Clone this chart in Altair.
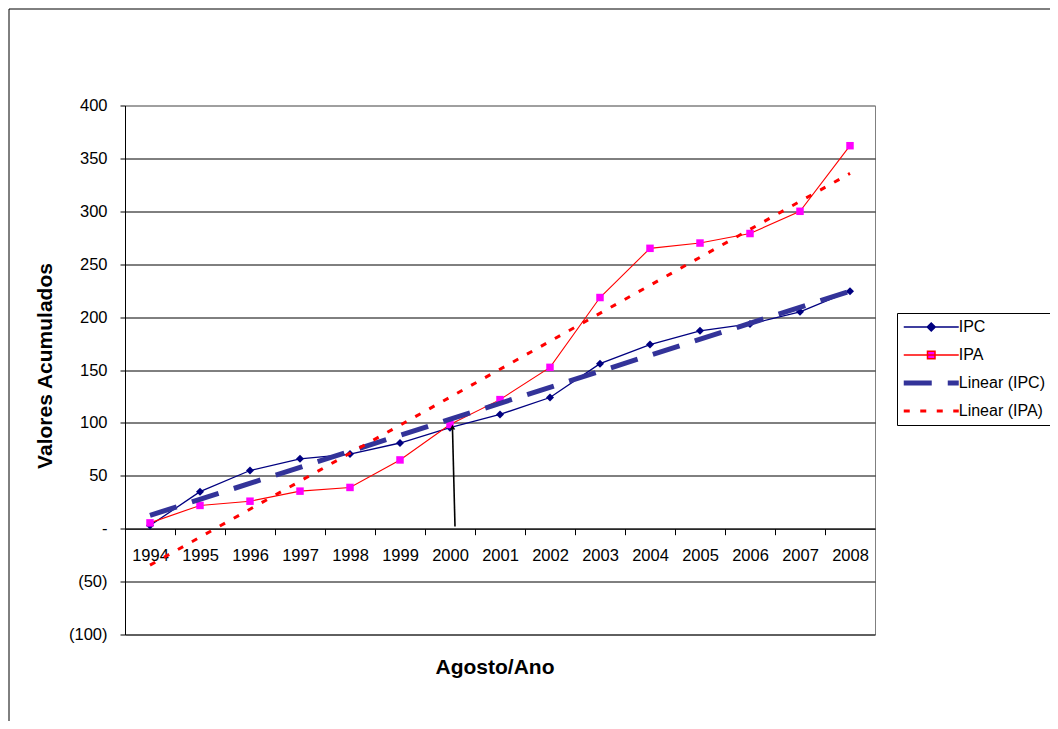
import altair as alt
import pandas as pd

# ---------------- data ----------------
anos = list(range(1994, 2009))
ipc = [3, 35, 55, 66, 70.5, 81, 95.5, 108, 124, 156, 174, 187, 193.5, 205, 224.5]
ipa = [5.5, 22, 26, 35.5, 39, 65, 98.5, 122, 152.5, 218.5, 265, 270, 279, 300, 362]
y_ticks = [-100, -50, 0, 50, 100, 150, 200, 250, 300, 350, 400]
series = ["IPC", "IPA", "Linear (IPC)", "Linear (IPA)"]

# annotation arrow (data coordinates)
arrow_x0 = [2000.1]
arrow_y0 = [2]
arrow_x1 = [2000.05]
arrow_y1 = [94]
arrow_head_y = [96]

df = pd.DataFrame({"Ano": anos, "IPC": ipc, "IPA": ipa})
arrow_df = pd.DataFrame({"x0": arrow_x0, "y0": arrow_y0, "x1": arrow_x1, "y1": arrow_y1, "yh": arrow_head_y})
legend_df = pd.DataFrame({"Serie": series})
frame_df = pd.DataFrame({"k": [0]})

FONT = "Liberation Sans"
NAVY = "#000080"
RED = "#FF0000"
MAGENTA = "#FF00FF"
SLATE = "#333399"

xscale = alt.Scale(domain=[1993.5, 2008.5], nice=False, zero=False)
yscale = alt.Scale(domain=[-100, 400], nice=False, zero=False)

xaxis = alt.Axis(
    values=anos, format="d", tickOffset=-25, labelOffset=25, offset=-105.8,
    grid=False, domainColor="black", tickColor="black", tickSize=6,
    labelFont=FONT, labelFontSize=16.5, labelColor="black", labelPadding=12.5,
    labelFlush=False, labelOverlap=False,
    title="Agosto/Ano", titleFont=FONT, titleFontSize=21, titleFontWeight="bold",
    titleColor="black", titleX=369.5, titleY=145, titleBaseline="alphabetic",
    titleAlign="center",
)
yaxis = alt.Axis(
    values=y_ticks,
    labelExpr="datum.value == 0 ? '-' : (datum.value < 0 ? '(' + format(-datum.value, 'd') + ')' : format(datum.value, 'd'))",
    grid=True,
    gridColor={"condition": {"test": "datum.value === 400", "value": "#808080"}, "value": "black"},
    gridWidth=1, domainColor="black", tickColor="black", tickSize=5,
    labelFont=FONT, labelFontSize=16.5, labelColor="black", labelPadding=13,
    labelFlush=False, labelOverlap=False,
    title="Valores  Acumulados", titleFont=FONT, titleFontSize=21, titleFontWeight="bold",
    titleColor="black", titleX=-74, titleY=260, titleAngle=270,
    titleBaseline="alphabetic", titleAlign="center",
)


def X(field):
    return alt.X(field, type="quantitative", scale=xscale, axis=xaxis, title="Agosto/Ano")


def Y(field):
    return alt.Y(field, type="quantitative", scale=yscale, axis=yaxis, title="Valores  Acumulados")


base = alt.Chart(df)

frame = alt.Chart(frame_df).mark_rect(fill="transparent", stroke="black", strokeWidth=1).encode(
    x=alt.value(-116), x2=alt.value(1000), y=alt.value(-96.5), y2=alt.value(1000)
)

ipc_line = base.mark_line(color=NAVY, strokeWidth=1.3).encode(x=X("Ano"), y=Y("IPC"))
ipc_pts = base.mark_point(shape="diamond", filled=True, color=NAVY, size=64, opacity=1).encode(
    x=X("Ano"), y=Y("IPC"))
ipa_line = base.mark_line(color=RED, strokeWidth=1.1).encode(x=X("Ano"), y=Y("IPA"))
ipa_pts = base.mark_point(shape="square", filled=True, color=MAGENTA, size=56, opacity=1).encode(
    x=X("Ano"), y=Y("IPA"))

ipc_trend = base.transform_regression("Ano", "IPC").mark_line(
    color=SLATE, strokeWidth=5, strokeDash=[28, 16]).encode(x=X("Ano"), y=Y("IPC"))
ipa_trend = base.transform_regression("Ano", "IPA").mark_line(
    color=RED, strokeWidth=3, strokeDash=[6, 10]).encode(x=X("Ano"), y=Y("IPA"))

arrow_shaft = alt.Chart(arrow_df).mark_rule(color="black", strokeWidth=1.6).encode(
    x=X("x0"), y=Y("y0"), x2=alt.X2("x1"), y2=alt.Y2("y1"))
arrow_head = alt.Chart(arrow_df).mark_point(shape="triangle-up", filled=True, color="black",
                                            size=30, opacity=1).encode(x=X("x1"), y=Y("yh"))

# legend (native Vega-Lite legend with custom symbols)
sym_paths = [
    "M0,0H55M27.5,-4L31.5,0L27.5,4L23.5,0Z",
    "M0,0H55M23.75,-3.75H31.25V3.75H23.75Z",
    "M0,-2.5H28V2.5H0ZM44,-2.5H55V2.5H44Z",
    "M0,-1.5H6V1.5H0ZM16.5,-1.5H22.5V1.5H16.5ZM33,-1.5H39V1.5H33ZM49.5,-1.5H55V1.5H49.5Z",
]
leg = alt.Legend(
    title=None, orient="none", legendX=772, legendY=207.5,
    symbolSize=4, symbolOffset=-7.25, labelOffset=47,
    labelFont=FONT, labelFontSize=16, labelColor="black",
    rowPadding=12, padding=6, strokeColor="black", fillColor="white",
)
legend_layer = alt.Chart(legend_df).transform_filter("false").mark_point(
    filled=True, opacity=1, strokeWidth=1).encode(
    fill=alt.Fill("Serie:N", scale=alt.Scale(domain=series, range=[NAVY, MAGENTA, SLATE, RED]), legend=leg),
    stroke=alt.Stroke("Serie:N", scale=alt.Scale(domain=series, range=[NAVY, RED, "transparent", "transparent"]), legend=leg),
    shape=alt.Shape("Serie:N", scale=alt.Scale(domain=series, range=sym_paths), legend=leg),
)

chart = alt.layer(
    frame, ipc_line, ipc_pts, ipa_line, ipa_pts, ipc_trend, ipa_trend, arrow_shaft, arrow_head, legend_layer
).properties(
    width=750, height=529,
    autosize=alt.AutoSizeParams(type="none"),
    padding={"left": 117, "top": 97.5, "right": 175, "bottom": 86.5},
    background="white",
).configure_view(
    fill="#C0C0C0", stroke="#808080", strokeWidth=1
)

chart.save("out.html", embed_options={"renderer": "svg", "actions": False})
